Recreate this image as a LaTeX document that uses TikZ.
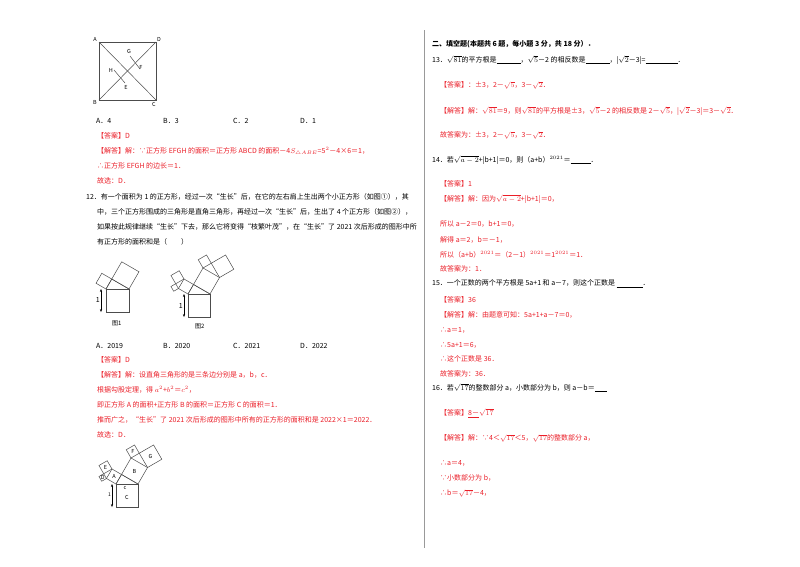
\documentclass[tikz,border=0pt]{standalone}
\usepackage{fontspec}
\setmainfont{Noto Sans CJK SC}
\usetikzlibrary{calc,arrows.meta}
\definecolor{ans}{RGB}{235,30,40}
\newcommand\pyt[4]{%
 \coordinate (#4c) at ($(#2)!1!-90:(#1)$);
 \coordinate (#4d) at ($(#1)!1!90:(#2)$);
 \coordinate (#4m) at ($(#1)!0.5!(#4c)$);
 \draw[fig] (#1)--(#2)--(#4c)--(#4d)--cycle;
 \ifnum\numexpr#3\relax>0
  \coordinate (#4p) at ($(#4d)!0.5!60:(#4c)$);
  \pyt{#4d}{#4p}{#3-1}{#4l}\pyt{#4p}{#4c}{#3-1}{#4r}%
 \fi}
\begin{document}
\begin{tikzpicture}[x=1pt,y=-1pt,
 every node/.style={font=\fontsize{7}{8}\selectfont,inner sep=0pt,anchor=west},
 red/.style={text=ans},
 fig/.style={draw=black!70,line width=0.5pt},
 lbl/.style={font=\fontsize{5.5}{6}\selectfont\itshape,anchor=center}]
\useasboundingbox (0,0) rectangle (800,566);
\fill[white] (0,0) rectangle (800,566);
\draw[black!40,line width=0.6pt] (424,30) -- (424,548);
% figure 11
\coordinate (A) at (99,42); \coordinate (D) at (156,42);
\coordinate (B) at (99,100); \coordinate (C) at (156,100);
\draw[fig] (A)--(D)--(C)--(B)--cycle;
\draw[fig] (A)--(C); \draw[fig] (B)--(D);
\coordinate (G) at (130,56); \coordinate (F) at (140,69);
\coordinate (E) at (125,83); \coordinate (H) at (114,70);
\draw[fig] (G)--(F) (H)--(E);
\node[lbl] at (95,39) {A}; \node[lbl] at (159,39) {D};
\node[lbl] at (95,102) {B}; \node[lbl] at (154,104) {C};
\node[lbl] at (129,51) {G}; \node[lbl] at (141,67) {F};
\node[lbl] at (126,87) {E}; \node[lbl] at (111,70) {H};
\node at (96,121) {A．4}; \node at (163,121) {B．3}; \node at (233,121) {C．2}; \node at (300,121) {D．1};
\node[red] at (97,136) {【答案】D};
\node[red] at (97,151) {【解答】解：∵正方形 \textit{EFGH} 的面积＝正方形 \textit{ABCD} 的面积－4$S_{\triangle ABE}$=5$^2$－4×6＝1，};
\node[red] at (97,166) {∴正方形 \textit{EFGH} 的边长＝1．};
\node[red] at (97,181) {故选：\textit{D}．};
\node at (86,197) {12．有一个面积为 1 的正方形，经过一次“生长”后，在它的左右肩上生出两个小正方形（如图①），其};
\node at (97,212) {中，三个正方形围成的三角形是直角三角形，再经过一次“生长”后，生出了 4 个正方形（如图②），};
\node at (97,227) {如果按此规律继续“生长”下去，那么它将变得“枝繁叶茂”，在“生长”了 2021 次后形成的图形中所};
\node at (97,242) {有正方形的面积和是（　　）};
% figures
\coordinate (a1) at (129,289); \coordinate (a2) at (106,289);
\draw[fig] (106,289) rectangle (129,312);
\coordinate (t1) at ($(a2)!0.5!60:(a1)$);
\draw[fig] (a2)--(t1)--(a1);
\pyt{a2}{t1}{0}{f1l}\pyt{t1}{a1}{0}{f1r}
\draw[{Stealth[length=3pt]}-{Stealth[length=3pt]},line width=0.4pt] (101,289)--(101,312);
\node[anchor=east] at (100,300) {1};
\node at (112,323) {\fontsize{6}{7}\selectfont 图1};
\coordinate (b1) at (210,294); \coordinate (b2) at (188,294);
\draw[fig] (188,294) rectangle (210,317);
\coordinate (t2) at ($(b2)!0.5!60:(b1)$);
\draw[fig] (b2)--(t2)--(b1);
\pyt{b2}{t2}{1}{f2l}\pyt{t2}{b1}{1}{f2r}
\draw[{Stealth[length=3pt]}-{Stealth[length=3pt]},line width=0.4pt] (184,294)--(184,317);
\node[anchor=east] at (183,306) {1};
\node at (195,326) {\fontsize{6}{7}\selectfont 图2};
\node at (96,346) {A．2019}; \node at (163,346) {B．2020}; \node at (233,346) {C．2021}; \node at (300,346) {D．2022};
\node[red] at (97,360) {【答案】D};
\node[red] at (97,375) {【解答】解：设直角三角形的是三条边分别是 \textit{a}，\textit{b}，\textit{c}．};
\node[red] at (97,390) {根据勾股定理，得 $a^2$+$b^2$＝$c^2$，};
\node[red] at (97,405) {即正方形 \textit{A} 的面积+正方形 \textit{B} 的面积＝正方形 \textit{C} 的面积＝1．};
\node[red] at (97,420) {推而广之，“生长”了 2021 次后形成的图形中所有的正方形的面积和是 2022×1＝2022．};
\node[red] at (97,435) {故选：\textit{D}．};
% figure 3
\coordinate (c1) at (138,484); \coordinate (c2) at (116,484);
\draw[fig] (116,484) rectangle (138,507);
\coordinate (t3) at ($(c2)!0.5!60:(c1)$);
\draw[fig] (c2)--(t3)--(c1);
\pyt{c2}{t3}{1}{f3l}\pyt{t3}{c1}{1}{f3r}
\draw[{Stealth[length=3pt]}-{Stealth[length=3pt]},line width=0.4pt] (112,484)--(112,507);
\node[anchor=east] at (111,495) {\fontsize{5}{6}\selectfont 1};
\node[lbl] at (127,497) {C}; \node[lbl] at (125,488) {c};
\node[lbl] at (f3lm) {A}; \node[lbl] at (f3rm) {B};
\node[lbl] at (f3llm) {D}; \node[lbl] at (f3lrm) {E};
\node[lbl] at (f3rlm) {F}; \node[lbl] at (f3rrm) {G};
% right column
\node at (432,44) {\textbf{二、填空题(本题共 6 题，每小题 3 分，共 18 分）．}};
\node at (432,60) {13．$\sqrt{81}$的平方根是\underline{\hspace{24pt}}，$\sqrt{5}$－2 的相反数是\underline{\hspace{24pt}}，|$\sqrt{2}$－3|=\underline{\hspace{32pt}}．};
\node[red] at (440,85) {【答案】：±3，2－$\sqrt{5}$，3－$\sqrt{2}$．};
\node[red] at (440,111) {【解答】解：$\sqrt{81}$＝9，则$\sqrt{81}$的平方根是±3，$\sqrt{5}$－2 的相反数是 2－$\sqrt{5}$，|$\sqrt{2}$－3|＝3－$\sqrt{2}$．};
\node[red] at (440,135) {故答案为：±3，2－$\sqrt{5}$，3－$\sqrt{2}$．};
\node at (432,160) {14．若$\sqrt{a-2}$+|\textit{b}+1|＝0，则（\textit{a}+\textit{b}）$^{2021}$＝\underline{\hspace{20pt}}．};
\node[red] at (440,184) {【答案】1};
\node[red] at (440,199) {【解答】解：因为$\sqrt{a-2}$+|\textit{b}+1|＝0，};
\node[red] at (440,224) {所以 \textit{a}－2＝0，\textit{b}+1＝0，};
\node[red] at (440,240) {解得 \textit{a}＝2，\textit{b}＝－1，};
\node[red] at (440,255) {所以（\textit{a}+\textit{b}）$^{2021}$＝（2－1）$^{2021}$＝1$^{2021}$＝1．};
\node[red] at (440,269) {故答案为：1．};
\node at (432,284) {15．一个正数的两个平方根是 5\textit{a}+1 和 \textit{a}－7，则这个正数是 \underline{\hspace{26pt}}．};
\node[red] at (440,300) {【答案】36};
\node[red] at (440,315) {【解答】解：由题意可知：5\textit{a}+1+\textit{a}－7＝0，};
\node[red] at (440,330) {∴\textit{a}＝1，};
\node[red] at (440,345) {∴5\textit{a}+1＝6，};
\node[red] at (440,359) {∴这个正数是 36．};
\node[red] at (440,374) {故答案为：36．};
\node at (432,388) {16．若$\sqrt{17}$的整数部分 \textit{a}，小数部分为 \textit{b}，则 \textit{a}－\textit{b}＝\underline{\hspace{12pt}}};
\node[red] at (440,413) {【答案】\underline{8－}$\sqrt{17}$};
\node[red] at (440,438) {【解答】解：∵4＜$\sqrt{17}$＜5，$\sqrt{17}$的整数部分 \textit{a}，};
\node[red] at (440,463) {∴\textit{a}＝4，};
\node[red] at (440,478) {∵小数部分为 \textit{b}，};
\node[red] at (440,493) {∴\textit{b}＝$\sqrt{17}$－4，};
\end{tikzpicture}
\end{document}
